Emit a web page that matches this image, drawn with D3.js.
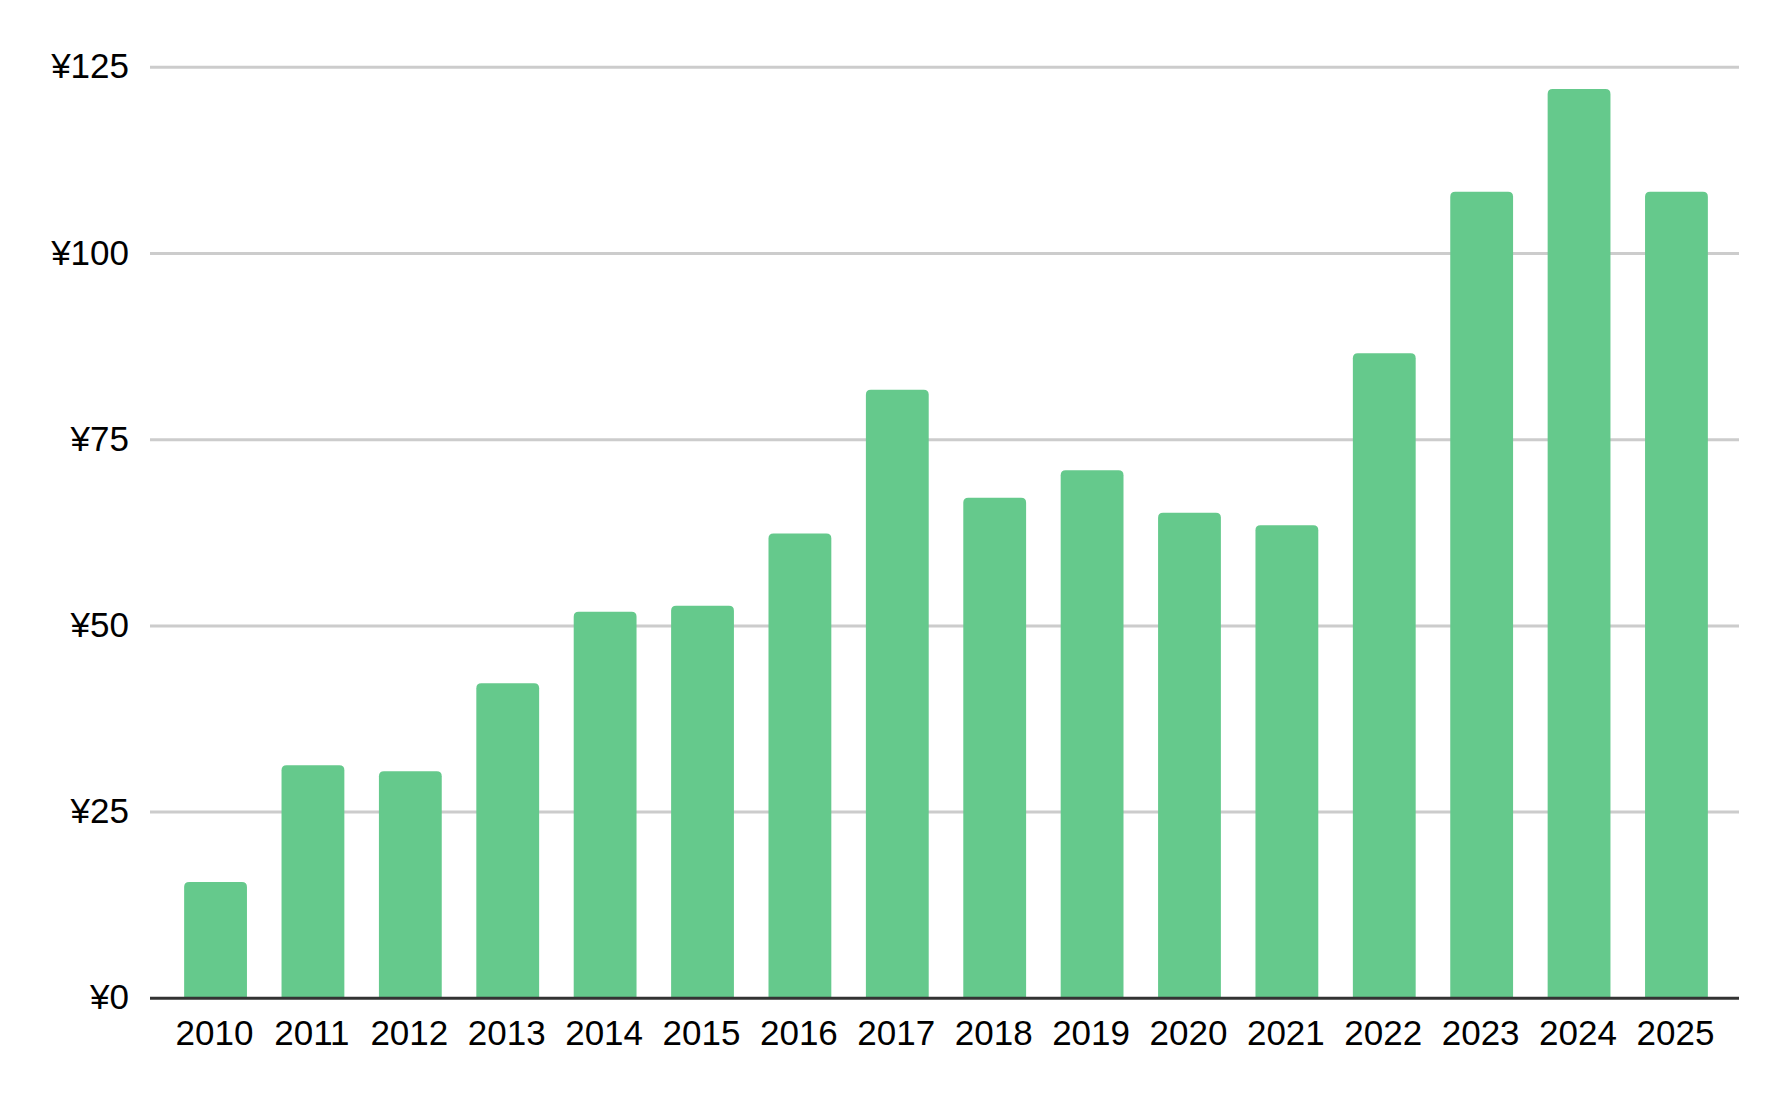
<!DOCTYPE html>
<html>
<head>
<meta charset="utf-8">
<script src="https://cdn.jsdelivr.net/npm/d3@7"></script>
<style>
  body { margin: 0; background: #fff; }
  text { font-family: "Liberation Sans", Arial, sans-serif; fill: #000; }
</style>
</head>
<body>
<svg id="chart" width="1786" height="1106"></svg>
<script>
var years = ['2010', '2011', '2012', '2013', '2014', '2015', '2016', '2017',
  '2018', '2019', '2020', '2021', '2022', '2023', '2024', '2025']
var values = [15.6, 31.3, 30.5, 42.3, 51.9, 52.7, 62.4, 81.7,
  67.2, 70.9, 65.2, 63.5, 86.6, 108.3, 122.1, 108.3]
var yTicks = [0, 25, 50, 75, 100, 125]

// plot area (window.top is reserved, so use other names)
var plotLeft = 150, plotRight = 1739, plotTop = 67.3, plotBottom = 998.3

var svg = d3.select('#chart')

var x = d3.scaleBand()
  .domain(years)
  .range([plotLeft + 2, plotRight + 1])
  .paddingInner(0.355)
  .paddingOuter(0.33)

var y = d3.scaleLinear()
  .domain([0, 125])
  .range([plotBottom, plotTop])

// gridlines
svg.append('g')
  .selectAll('line')
  .data(yTicks.filter(function(d) { return d > 0 }))
  .enter()
  .append('line')
    .attr('x1', plotLeft)
    .attr('x2', plotRight)
    .attr('y1', function(d) { return y(d) })
    .attr('y2', function(d) { return y(d) })
    .attr('stroke', '#cccccc')
    .attr('stroke-width', 3)

// y labels
svg.append('g')
  .selectAll('text')
  .data(yTicks)
  .enter()
  .append('text')
    .attr('x', plotLeft - 21)
    .attr('y', function(d) { return y(d) + 11 })
    .attr('text-anchor', 'end')
    .attr('font-size', 35)
    .text(function(d) { return '¥' + d })

// bars with rounded top corners
function barPath(d, i) {
  var x0 = x(years[i]), w = x.bandwidth()
  var y0 = y(d), y1 = y(0), r = 5
  return 'M' + x0 + ',' + y1 +
    'V' + (y0 + r) +
    'Q' + x0 + ',' + y0 + ' ' + (x0 + r) + ',' + y0 +
    'H' + (x0 + w - r) +
    'Q' + (x0 + w) + ',' + y0 + ' ' + (x0 + w) + ',' + (y0 + r) +
    'V' + y1 + 'Z'
}

svg.append('g')
  .selectAll('path')
  .data(values)
  .enter()
  .append('path')
    .attr('d', barPath)
    .attr('fill', '#65c98c')

// baseline
svg.append('line')
  .attr('x1', plotLeft)
  .attr('x2', plotRight)
  .attr('y1', y(0))
  .attr('y2', y(0))
  .attr('stroke', '#333333')
  .attr('stroke-width', 3)

// x labels
svg.append('g')
  .selectAll('text')
  .data(years)
  .enter()
  .append('text')
    .attr('x', function(d) { return x(d) + x.bandwidth() / 2 - 1 })
    .attr('y', plotBottom + 47)
    .attr('text-anchor', 'middle')
    .attr('font-size', 35)
    .text(function(d) { return d })
</script>
</body>
</html>
